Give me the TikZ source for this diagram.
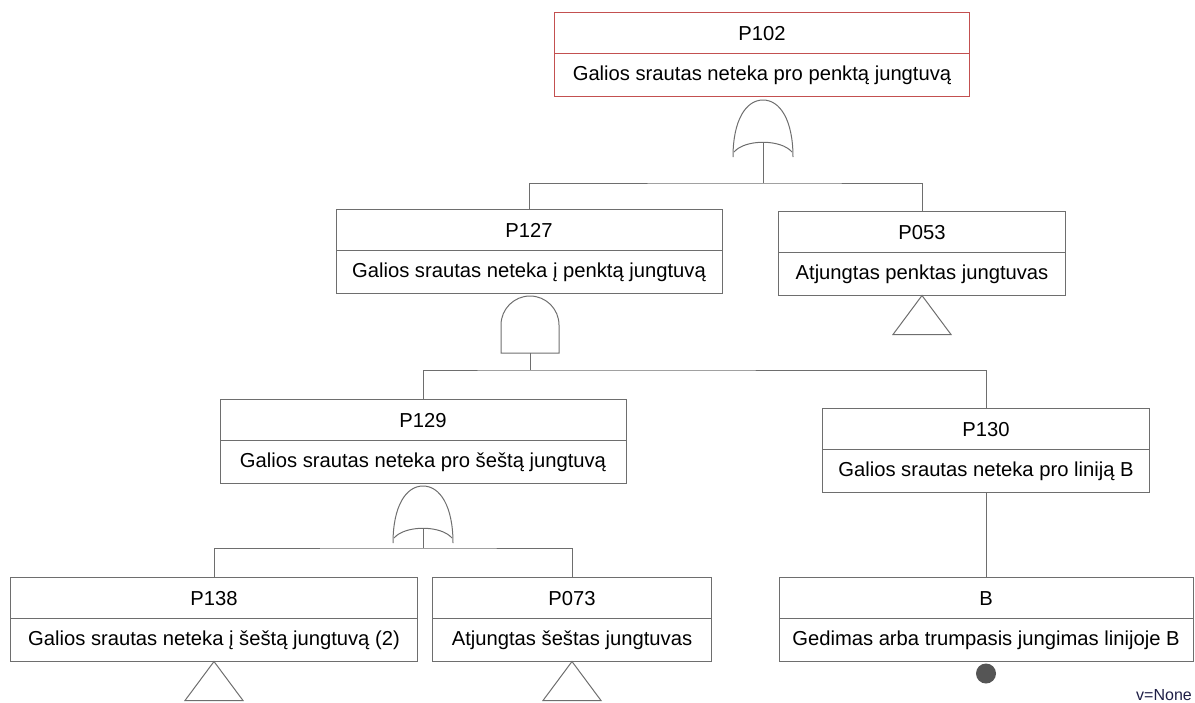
\documentclass[tikz,border=0pt]{standalone}
\usepackage{fontspec}
\setmainfont{Liberation Sans}
\usetikzlibrary{positioning}
\definecolor{linegray}{RGB}{110,110,110}
\definecolor{topred}{RGB}{195,80,80}
\definecolor{basegray}{RGB}{85,85,85}
\definecolor{notecol}{RGB}{30,30,70}

\begin{document}
\begin{tikzpicture}[x=1pt, y=-1pt,
  idbox/.style={rectangle, draw=linegray, line width=1pt, fill=white, outer sep=0pt,
                inner sep=0pt, minimum height=41pt, text height=14.3pt, text depth=0pt,
                font=\fontsize{20.2}{24}\selectfont},
  descbox/.style={idbox, minimum height=43pt, text depth=4pt},
  topevent/.style={draw=topred},
  wire/.style={draw=linegray, line width=1pt},
  gate/.style={draw=linegray, line width=1pt},
  basicev/.style={circle, fill=basegray, minimum size=20pt, inner sep=0pt, outer sep=0pt},
  note/.style={font=\fontsize{16}{18}\selectfont, text=notecol, inner sep=0pt},
  orgate/.pic={
    \draw[gate] (-30,15) .. controls (-30,-22) and (-17,-42) .. (0,-42)
                .. controls (17,-42) and (30,-22) .. (30,15);
    \draw[gate] (-29,10) .. controls (-18,-3) and (18,-3) .. (29,10);
    \coordinate (-out) at (0,0);
  },
  andgate/.pic={
    \draw[gate] (-29,0) -- (-29,-28) .. controls (-29,-44) and (-16,-57) .. (0,-57)
                .. controls (16,-57) and (29,-44) .. (29,-28) -- (29,0) -- cycle;
    \coordinate (-out) at (0,0);
  },
  transfer/.pic={
    \draw[gate] (0,0) -- (29,39) -- (-29,39) -- cycle;
  }
]
  \useasboundingbox (0,0) rectangle (1195,702);

  \node[idbox, topevent, minimum width=415pt] (p102) at (762,33) {P102};
  \node[descbox, topevent, minimum width=415pt, below=0pt of p102] (p102t) {Galios srautas neteka pro penktą jungtuvą};

  \node[idbox, minimum width=386pt] (p127) at (529,230) {P127};
  \node[descbox, minimum width=386pt, below=0pt of p127] (p127t) {Galios srautas neteka į penktą jungtuvą};

  \node[idbox, minimum width=287pt] (p053) at (922,232) {P053};
  \node[descbox, minimum width=287pt, below=0pt of p053] (p053t) {Atjungtas penktas jungtuvas};

  \node[idbox, minimum width=406pt] (p129) at (423,420) {P129};
  \node[descbox, minimum width=406pt, below=0pt of p129] (p129t) {Galios srautas neteka pro šeštą jungtuvą};

  \node[idbox, minimum width=327pt] (p130) at (986,429) {P130};
  \node[descbox, minimum width=327pt, below=0pt of p130] (p130t) {Galios srautas neteka pro liniją B};

  \node[idbox, minimum width=407pt] (p138) at (214,598) {P138};
  \node[descbox, minimum width=407pt, below=0pt of p138] (p138t) {Galios srautas neteka į šeštą jungtuvą (2)};

  \node[idbox, minimum width=279pt] (p073) at (572,598) {P073};
  \node[descbox, minimum width=279pt, below=0pt of p073] (p073t) {Atjungtas šeštas jungtuvas};

  \node[idbox, minimum width=414pt] (b) at (986,598) {B};
  \node[descbox, minimum width=414pt, below=0pt of b] (bt) {Gedimas arba trumpasis jungimas linijoje B};

  % gates and their branches
  \pic (g1) at (763,142) {orgate};
  \draw[wire] (g1-out) -- ++(0,41) coordinate (j1);
  \draw[wire] (p127.north) |- (j1) -| (p053.north);

  \pic (g2) at (530,353) {andgate};
  \draw[wire] (g2-out) -- ++(0,17) coordinate (j2);
  \draw[wire] (p129.north) |- (j2) -| (p130.north);

  \pic (g3) at (423,528) {orgate};
  \draw[wire] (g3-out) -- ++(0,20) coordinate (j3);
  \draw[wire] (p138.north) |- (j3) -| (p073.north);

  \draw[wire] (p130t.south) -- (b.north);

  % transfer symbols and basic event
  \pic at (p053t.south) {transfer};
  \pic at (p138t.south) {transfer};
  \pic at (p073t.south) {transfer};
  \node[basicev, below=2pt of bt] (bev) {};

  \node[note, anchor=base east] (vnone) at (1192,700) {v=None};
\end{tikzpicture}
\end{document}
